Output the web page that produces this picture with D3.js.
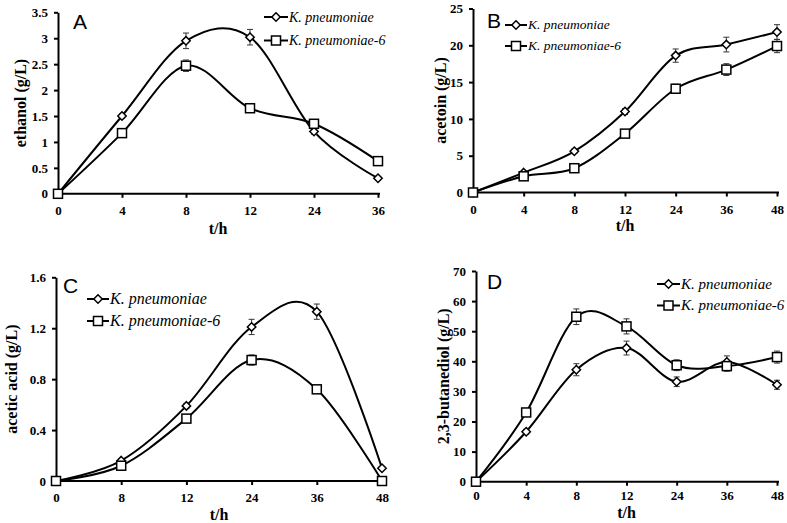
<!DOCTYPE html>
<html>
<head>
<meta charset="utf-8">
<script src="https://cdn.jsdelivr.net/npm/d3@7"></script>
<style>
  html, body { margin: 0; padding: 0; background: #fff; }
  svg { display: block; }
  .tick text { font-family: "Liberation Serif", "Times New Roman", serif; font-weight: bold; font-size: 13px; fill: #000; }
  .axis path, .axis line { stroke: #000; stroke-width: 2px; }
</style>
</head>
<body>
<svg id="chart" width="787" height="523"></svg>
<script>
// ---------- DATA ----------
const seriesNames = ["K. pneumoniae", "K. pneumoniae-6"];

// Panel A: ethanol
const timesA = ["0", "4", "8", "12", "24", "36"];
const ethanolK = [0, 1.5, 2.95, 3.02, 1.2, 0.3];
const ethanolKErr = [0, 0.04, 0.15, 0.15, 0.05, 0.03];
const ethanolK6 = [0, 1.17, 2.47, 1.65, 1.35, 0.63];
const ethanolK6Err = [0, 0.04, 0.11, 0.04, 0.05, 0.04];
const ticksA = [0, 0.5, 1, 1.5, 2, 2.5, 3, 3.5];

// Panel B: acetoin
const timesB = ["0", "4", "8", "12", "24", "36", "48"];
const acetoinK = [0, 2.7, 5.6, 11.0, 18.6, 20.1, 21.8];
const acetoinKErr = [0, 0.2, 0.3, 0.4, 0.9, 1.0, 1.0];
const acetoinK6 = [0, 2.2, 3.3, 8.0, 14.1, 16.7, 19.9];
const acetoinK6Err = [0, 0.2, 0.2, 0.3, 0.6, 0.8, 0.9];
const ticksB = [0, 5, 10, 15, 20, 25];

// Panel C: acetic acid
const timesC = ["0", "8", "12", "24", "36", "48"];
const aceticK = [0, 0.16, 0.59, 1.21, 1.33, 0.1];
const aceticKErr = [0, 0.01, 0.02, 0.06, 0.06, 0.01];
const aceticK6 = [0, 0.12, 0.49, 0.95, 0.72, 0];
const aceticK6Err = [0, 0.01, 0.02, 0.04, 0.02, 0];
const ticksC = [0, 0.4, 0.8, 1.2, 1.6];

// Panel D: 2,3-butanediol
const timesD = ["0", "4", "8", "12", "24", "36", "48"];
const bdoK = [0, 16.6, 37.2, 44.4, 33.2, 39.8, 32.2];
const bdoKErr = [0, 0.8, 2.0, 2.3, 1.6, 2.0, 1.5];
const bdoK6 = [0, 23.0, 54.8, 51.6, 38.7, 38.4, 41.4];
const bdoK6Err = [0, 1.0, 2.6, 2.5, 1.8, 1.7, 2.0];
const ticksD = [0, 10, 20, 30, 40, 50, 60, 70];

// ---------- LAYOUT ----------
const panels = [
  { letter: "A", ylabel: "ethanol (g/L)", times: timesA, a: ethanolK, aErr: ethanolKErr, b: ethanolK6, bErr: ethanolK6Err,
    ticks: ticksA, fmt: d => String(d),
    x0: 58, x1: 378, yTop: 12.3, yBot: 193.8,
    letterX: 73, letterY: 29,
    legX: 264, legY: 17, legGap: 23.5, legLen: 24, legFont: 14,
    ylabX: 20, xlabY: 234, tickLabY: 210 },
  { letter: "B", ylabel: "acetoin (g/L)", times: timesB, a: acetoinK, aErr: acetoinKErr, b: acetoinK6, bErr: acetoinK6Err,
    ticks: ticksB, fmt: d => String(d),
    x0: 473, x1: 777, yTop: 8.5, yBot: 192.5,
    letterX: 487, letterY: 28,
    legX: 505, legY: 25, legGap: 21, legLen: 22, legFont: 13.5,
    ylabX: 440, xlabY: 231, tickLabY: 209 },
  { letter: "C", ylabel: "acetic acid (g/L)", times: timesC, a: aceticK, aErr: aceticKErr, b: aceticK6, bErr: aceticK6Err,
    ticks: ticksC, fmt: d => (d === 0 ? "0" : d.toFixed(1)),
    x0: 56, x1: 382, yTop: 277.3, yBot: 481,
    letterX: 63, letterY: 293,
    legX: 87, legY: 299, legGap: 22, legLen: 22, legFont: 16,
    ylabX: 11, xlabY: 520, tickLabY: 497 },
  { letter: "D", ylabel: "2,3-butanediol (g/L)", times: timesD, a: bdoK, aErr: bdoKErr, b: bdoK6, bErr: bdoK6Err,
    ticks: ticksD, fmt: d => String(d),
    x0: 476, x1: 777, yTop: 271, yBot: 481.7,
    letterX: 487, letterY: 289,
    legX: 657, legY: 284, legGap: 21.5, legLen: 23, legFont: 15,
    ylabX: 443, xlabY: 518, tickLabY: 495.5 }
];

const svg = d3.select("#chart");
const serif = '"Liberation Serif", "Times New Roman", serif';
const sans = '"Liberation Sans", Arial, sans-serif';

function drawMarker(g, type, cx, cy) {
  if (type === "diamond") {
    const r = 4.2;
    g.append("path")
      .attr("d", `M${cx},${cy - r}L${cx + r},${cy}L${cx},${cy + r}L${cx - r},${cy}Z`)
      .attr("fill", "#fff").attr("stroke", "#000").attr("stroke-width", 1.5);
  } else {
    const s = 9;
    g.append("rect")
      .attr("x", cx - s / 2).attr("y", cy - s / 2).attr("width", s).attr("height", s)
      .attr("fill", "#fff").attr("stroke", "#000").attr("stroke-width", 1.5);
  }
}

panels.forEach(p => {
  const g = svg.append("g");
  const x = d3.scalePoint().domain(p.times).range([p.x0, p.x1]);
  const y = d3.scaleLinear().domain([p.ticks[0], p.ticks[p.ticks.length - 1]]).range([p.yBot, p.yTop]);

  // axes
  const yAxis = d3.axisLeft(y).tickValues(p.ticks).tickFormat(p.fmt).tickSizeInner(4).tickSizeOuter(0).tickPadding(6);
  g.append("g").attr("class", "axis").attr("transform", `translate(${p.x0},0)`).call(yAxis);

  const xAxis = d3.axisBottom(x).tickSizeInner(4).tickSizeOuter(0).tickPadding(0);
  const xg = g.append("g").attr("class", "axis").attr("transform", `translate(0,${p.yBot})`).call(xAxis);
  xg.select(".domain").attr("d", `M${p.x0},0H${p.x1 + 2}`);
  xg.selectAll(".tick text").attr("y", p.tickLabY - p.yBot).attr("dy", "0.35em");

  // lines
  const line = d3.line().x((d, i) => x(p.times[i])).y(d => y(d)).curve(d3.curveCardinal.tension(0));
  [p.a, p.b].forEach(vals => {
    g.append("path").datum(vals).attr("d", line)
      .attr("fill", "none").attr("stroke", "#000").attr("stroke-width", 2);
  });

  // error bars
  [[p.a, p.aErr], [p.b, p.bErr]].forEach(([vals, errs]) => {
    vals.forEach((v, i) => {
      const cx = x(p.times[i]);
      const e = errs[i];
      if (!e) return;
      const yt = y(v + e), yb = y(v - e);
      g.append("path")
        .attr("d", `M${cx},${yt}V${yb}M${cx - 3},${yt}H${cx + 3}M${cx - 3},${yb}H${cx + 3}`)
        .attr("fill", "none").attr("stroke", "#333").attr("stroke-width", 1);
    });
  });

  // markers
  p.a.forEach((v, i) => drawMarker(g, "diamond", x(p.times[i]), y(v)));
  p.b.forEach((v, i) => drawMarker(g, "square", x(p.times[i]), y(v)));

  // panel letter
  g.append("text").attr("x", p.letterX).attr("y", p.letterY)
    .attr("font-family", sans).attr("font-size", 21).attr("fill", "#000").text(p.letter);

  // legend
  ["diamond", "square"].forEach((type, k) => {
    const ly = p.legY + k * p.legGap;
    g.append("line").attr("x1", p.legX).attr("x2", p.legX + p.legLen).attr("y1", ly).attr("y2", ly)
      .attr("stroke", "#000").attr("stroke-width", 2);
    drawMarker(g, type, p.legX + p.legLen / 2, ly);
    g.append("text").attr("x", p.legX + p.legLen + 1).attr("y", ly).attr("dy", "0.33em")
      .attr("font-family", serif).attr("font-style", "italic").attr("font-size", p.legFont)
      .attr("fill", "#000").text(seriesNames[k]);
  });

  // axis titles
  g.append("text")
    .attr("transform", `translate(${p.ylabX},${(p.yTop + p.yBot) / 2}) rotate(-90)`)
    .attr("text-anchor", "middle").attr("dy", "0.35em")
    .attr("font-family", serif).attr("font-weight", "bold").attr("font-size", 16).attr("fill", "#000")
    .text(p.ylabel);
  g.append("text")
    .attr("x", (p.x0 + p.x1) / 2).attr("y", p.xlabY)
    .attr("text-anchor", "middle")
    .attr("font-family", serif).attr("font-weight", "bold").attr("font-size", 16).attr("fill", "#000")
    .text("t/h");
});
</script>
</body>
</html>
